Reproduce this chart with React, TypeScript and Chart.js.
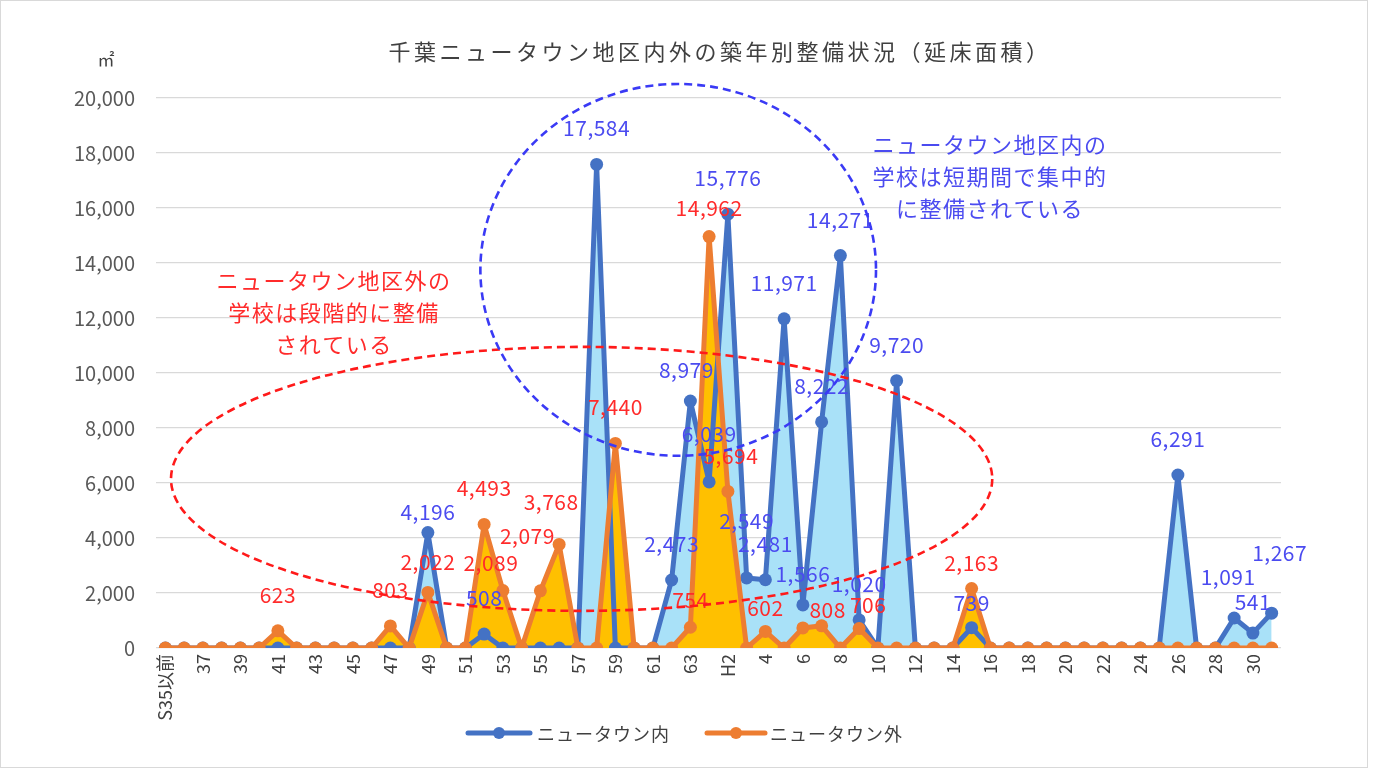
import React, { useEffect, useRef } from "react";
import { Chart, registerables } from "chart.js";

Chart.register(...registerables);

const FONT = '"Noto Sans CJK JP", "Noto Sans", sans-serif';

const categories = [
  "S35以前", "36", "37", "38", "39", "40", "41", "42", "43", "44", "45", "46", "47", "48", "49",
  "50", "51", "52", "53", "54", "55", "56", "57", "58", "59", "60", "61", "62", "63", "H1",
  "H2", "3", "4", "5", "6", "7", "8", "9", "10", "11", "12", "13", "14", "15", "16",
  "17", "18", "19", "20", "21", "22", "23", "24", "25", "26", "27", "28", "29", "30", "31",
];

const innerValues = [
  0, 0, 0, 0, 0, 0, 0, 0, 0, 0, 0, 0, 0, 0, 4196,
  0, 0, 508, 0, 0, 0, 0, 0, 17584, 0, 0, 0, 2473, 8979, 6039,
  15776, 2549, 2481, 11971, 1566, 8222, 14271, 1020, 0, 9720, 0, 0, 0, 739, 0,
  0, 0, 0, 0, 0, 0, 0, 0, 0, 6291, 0, 0, 1091, 541, 1267,
];

const outerValues = [
  0, 0, 0, 0, 0, 0, 623, 0, 0, 0, 0, 0, 803, 0, 2022,
  0, 0, 4493, 2089, 0, 2079, 3768, 0, 0, 7440, 0, 0, 0, 754, 14962,
  5694, 0, 602, 0, 730, 808, 0, 706, 0, 0, 0, 0, 0, 2163, 0,
  0, 0, 0, 0, 0, 0, 0, 0, 0, 0, 0, 0, 0, 0, 0,
];

const seriesNames = ["ニュータウン内", "ニュータウン外"];
const yTicks = { min: 0, max: 20000, step: 2000 };

const titleText = "千葉ニュータウン地区内外の築年別整備状況（延床面積）";
const innerNote = ["ニュータウン地区内の", "学校は短期間で集中的", "に整備されている"];
const outerNote = ["ニュータウン地区外の", "学校は段階的に整備", "されている"];

// label placement tweaks (pixels) relative to default "above" position
const innerLabelNudge: Record<number, [number, number]> = {
  14: [0, 15], 28: [-4, 5], 29: [0, -12], 31: [0, -21], 34: [0, 5], 43: [0, 11],
  57: [-6, -5], 58: [0, 5], 59: [8, -24],
};
const outerLabelNudge: Record<number, [number, number]> = {
  14: [0, 6], 18: [-12, 8], 20: [-13, -19], 21: [-8, -6], 28: [0, 9], 29: [0, 7],
  30: [3, 1], 32: [0, 13], 35: [6, 20], 37: [9, 12], 43: [0, 10],
};
const outerLabelHidden = [34];

const BLUE = "#4472C4";
const ORANGE = "#ED7D31";
const BLUE_FILL = "#A9E1F8";
const GOLD_FILL = "#FFC000";
const BLUE_TEXT = "#4B4BF0";
const RED_TEXT = "#FF2B2B";

const fmt = (v: number) => v.toLocaleString("en-US");

const overlayPlugin = {
  id: "overlay",
  beforeDraw(chart: any) {
    const ctx = chart.ctx;
    ctx.save();
    ctx.fillStyle = "#ffffff";
    ctx.fillRect(0, 0, chart.width, chart.height);
    ctx.restore();
  },
  afterDatasetsDraw(chart: any) {
    const ctx = chart.ctx;
    ctx.save();
    ctx.font = `21px ${FONT}`;
    (ctx as any).letterSpacing = "0.5px";
    ctx.textAlign = "center";
    ctx.textBaseline = "middle";
    const drawLabels = (dsIndex: number, values: number[], color: string, nudge: Record<number, [number, number]>, hidden: number[]) => {
      const meta = chart.getDatasetMeta(dsIndex);
      ctx.fillStyle = color;
      values.forEach((v, i) => {
        if (v <= 0 || hidden.includes(i)) return;
        const p = meta.data[i];
        const n = nudge[i] || [0, 0];
        ctx.fillText(fmt(v), p.x + n[0], p.y - 36 + n[1]);
      });
    };
    drawLabels(0, innerValues, BLUE_TEXT, innerLabelNudge, []);
    drawLabels(1, outerValues, RED_TEXT, outerLabelNudge, outerLabelHidden);
    (ctx as any).letterSpacing = "0px";
    ctx.restore();
  },
  afterDraw(chart: any) {
    const ctx = chart.ctx;
    const xs = chart.scales.x;
    const ys = chart.scales.y;
    ctx.save();

    // ellipses (in data coordinates)
    const ellipse = (cx: number, cy: number, rx: number, ry: number, color: string) => {
      const px = xs.getPixelForValue(cx);
      const py = ys.getPixelForValue(cy);
      const prx = Math.abs(xs.getPixelForValue(cx + rx) - px);
      const pry = Math.abs(ys.getPixelForValue(cy + ry) - py);
      ctx.beginPath();
      ctx.setLineDash([8, 5]);
      ctx.lineWidth = 2.6;
      ctx.strokeStyle = color;
      ctx.ellipse(px, py, prx, pry, 0, 0, Math.PI * 2);
      ctx.stroke();
    };
    ellipse(22.2, 6150, 21.9, 4800, "#FF1A1A");
    ellipse(27.35, 13750, 10.55, 6760, "#3A3AF5");
    ctx.setLineDash([]);

    // notes
    ctx.textAlign = "center";
    ctx.textBaseline = "middle";
    ctx.font = `22px ${FONT}`;
    (ctx as any).letterSpacing = "1.5px";
    ctx.fillStyle = BLUE_TEXT;
    innerNote.forEach((t, i) => ctx.fillText(t, 990, 145 + i * 32));
    ctx.fillStyle = RED_TEXT;
    outerNote.forEach((t, i) => ctx.fillText(t, 334, 281 + i * 32));

    // title
    ctx.font = `22px ${FONT}`;
    (ctx as any).letterSpacing = "3.5px";
    ctx.fillStyle = "#404040";
    ctx.fillText(titleText, 720, 52);
    (ctx as any).letterSpacing = "0px";

    // unit
    ctx.font = `17px ${FONT}`;
    ctx.fillStyle = "#404040";
    ctx.fillText("㎡", 106, 60);

    // legend
    const legendItems = [
      { x0: 468, x1: 530, tx: 537, color: BLUE, name: seriesNames[0] },
      { x0: 707, x1: 765, tx: 770, color: ORANGE, name: seriesNames[1] },
    ];
    const ly = 733;
    ctx.textAlign = "left";
    ctx.font = `18px ${FONT}`;
    (ctx as any).letterSpacing = "1px";
    legendItems.forEach((it) => {
      ctx.strokeStyle = it.color;
      ctx.lineWidth = 5;
      ctx.lineCap = "round";
      ctx.beginPath();
      ctx.moveTo(it.x0, ly);
      ctx.lineTo(it.x1, ly);
      ctx.stroke();
      ctx.fillStyle = it.color;
      ctx.beginPath();
      ctx.arc((it.x0 + it.x1) / 2, ly, 6, 0, Math.PI * 2);
      ctx.fill();
      ctx.fillStyle = "#404040";
      ctx.fillText(it.name, it.tx, ly + 1);
    });
    (ctx as any).letterSpacing = "0px";

    // outer border
    ctx.strokeStyle = "#D9D9D9";
    ctx.lineWidth = 1;
    ctx.strokeRect(0.5, 0.5, 1367, 767);
    ctx.restore();
  },
};

export default function App() {
  const ref = useRef<HTMLCanvasElement>(null);
  useEffect(() => {
    document.body.style.margin = "0";
    const canvas = ref.current!;
    const chart = new Chart(canvas, {
      type: "line",
      data: {
        labels: categories,
        datasets: [
          {
            label: seriesNames[0],
            data: innerValues,
            borderColor: BLUE,
            backgroundColor: BLUE,
            borderWidth: 5,
            borderJoinStyle: "round",
            borderCapStyle: "round",
            pointRadius: 6.5,
            pointBackgroundColor: BLUE,
            pointBorderWidth: 0,
            tension: 0,
            fill: false,
            order: 1,
          },
          {
            label: seriesNames[1],
            data: outerValues,
            borderColor: ORANGE,
            backgroundColor: ORANGE,
            borderWidth: 5,
            borderJoinStyle: "round",
            borderCapStyle: "round",
            pointRadius: 6.5,
            pointBackgroundColor: ORANGE,
            pointBorderWidth: 0,
            tension: 0,
            fill: false,
            order: 0,
          },
          {
            label: seriesNames[0] + " area",
            data: innerValues,
            borderWidth: 0,
            borderColor: "rgba(0,0,0,0)",
            backgroundColor: BLUE_FILL,
            pointRadius: 0,
            fill: "origin",
            tension: 0,
            order: 3,
          },
          {
            label: seriesNames[1] + " area",
            data: outerValues,
            borderWidth: 0,
            borderColor: "rgba(0,0,0,0)",
            backgroundColor: GOLD_FILL,
            pointRadius: 0,
            fill: "origin",
            tension: 0,
            order: 2,
          },
        ],
      },
      options: {
        responsive: false,
        animation: false,
        events: [],
        layout: { padding: { top: 98, right: 94, bottom: 33, left: 0 } },
        plugins: {
          legend: { display: false },
          title: { display: false },
          tooltip: { enabled: false },
        },
        scales: {
          x: {
            offset: true,
            grid: { display: false, drawTicks: false },
            border: { display: false },
            afterFit: (scale: any) => { scale.height = 90; },
            ticks: {
              autoSkip: false,
              maxRotation: 90,
              minRotation: 90,
              padding: 6,
              color: "#404040",
              font: { family: FONT, size: 18 },
              callback: (_v: any, i: number) => (i % 2 === 0 ? categories[i] : ""),
            },
          },
          y: {
            min: yTicks.min,
            max: yTicks.max,
            grid: { color: "#D9D9D9", lineWidth: 1.3, drawTicks: false },
            border: { display: false },
            afterFit: (scale: any) => { scale.width = 156; },
            ticks: {
              stepSize: yTicks.step,
              padding: 21,
              color: "#595959",
              font: { family: FONT, size: 20 },
              callback: (v: any) => fmt(Number(v)),
            },
          },
        },
      },
      plugins: [overlayPlugin],
    });
    return () => chart.destroy();
  }, []);
  return (
    <div style={{ width: 1375, height: 771, position: "relative" }}>
      <canvas ref={ref} width={1375} height={771} style={{ width: 1375, height: 771, display: "block" }} />
    </div>
  );
}
